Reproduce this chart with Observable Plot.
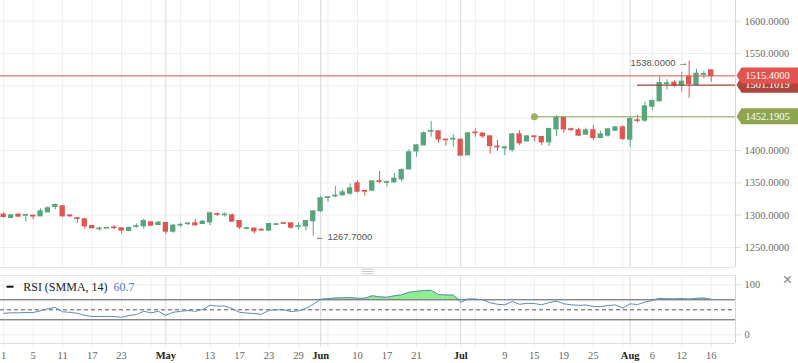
<!DOCTYPE html>
<html>
<head>
<meta charset="utf-8">
<script src="https://cdn.jsdelivr.net/npm/d3@7"></script>
<script src="https://cdn.jsdelivr.net/npm/@observablehq/plot@0.6"></script>
<style>
  body { margin: 0; background: #fff; }
  #chart { width: 798px; height: 363px; overflow: hidden; background: #fff; }
  #chart svg { display: block; }
</style>
</head>
<body>
<div id="chart"></div>
<script>
// ---------- data (daily candles, index 0 = Apr 1) ----------
const opens = [1300.5,1295.9,1300.5,1299.5,1298.8,1298.4,1304.6,1312.9,1313.4,1299.2,
  1295.0,1293.3,1283.0,1278.6,1279.6,1280.6,1279.4,1275.8,1282.2,1283.0,
  1288.6,1285.0,1287.6,1274.7,1284.3,1286.4,1287.1,1286.6,1289.1,1301.3,
  1300.2,1299.5,1290.7,1279.0,1278.9,1277.0,1276.3,1285.3,1287.3,1287.1,
  1282.3,1283.0,1290.7,1306.2,1326.8,1329.4,1330.9,1333.5,1349.0,1337.2,
  1338.1,1352.4,1350.3,1351.1,1355.7,1371.1,1398.9,1408.2,1429.4,1429.4,
  1416.6,1417.2,1416.5,1392.8,1427.5,1426.0,1421.6,1405.7,1403.6,1401.0,
  1424.7,1414.4,1421.6,1420.6,1412.9,1433.0,1450.5,1432.5,1431.0,1424.7,
  1430.9,1419.6,1423.2,1430.9,1435.5,1417.0,1446.4,1446.4,1468.0,1476.3,
  1503.1,1504.6,1500.5,1513.4,1501.5,1517.5,1523.7];
const highs = [1303.6,1300.5,1302.1,1301.0,1300.5,1309.8,1313.4,1317.0,1315.0,1301.0,
  1296.9,1293.5,1284.0,1281.4,1280.4,1284.0,1279.6,1282.0,1286.6,1293.3,
  1289.2,1290.2,1288.6,1285.6,1287.6,1288.6,1293.3,1291.7,1304.6,1303.1,
  1303.6,1302.0,1291.2,1281.4,1280.4,1278.8,1286.6,1287.1,1288.6,1287.3,
  1288.0,1291.7,1307.0,1328.9,1328.9,1344.3,1339.2,1348.4,1353.0,1338.0,
  1352.5,1367.5,1352.6,1364.9,1371.6,1401.0,1409.3,1428.9,1444.8,1430.0,
  1416.8,1424.7,1417.5,1428.0,1433.5,1426.5,1423.0,1415.5,1406.7,1426.3,
  1430.9,1423.2,1423.2,1421.6,1434.5,1454.1,1451.0,1434.5,1434.5,1434.5,
  1438.6,1429.9,1433.5,1437.1,1438.1,1451.5,1454.6,1474.7,1478.4,1513.4,
  1509.3,1508.2,1521.1,1538.0,1525.2,1522.7,1524.0];
const lows = [1295.9,1294.3,1296.9,1289.2,1292.8,1297.9,1304.0,1308.2,1296.9,1295.9,
  1287.1,1278.3,1278.8,1275.2,1279.4,1277.3,1270.6,1274.2,1279.9,1278.3,
  1283.0,1284.0,1270.1,1272.1,1280.4,1284.0,1283.0,1286.1,1284.0,1297.9,
  1296.9,1290.0,1277.8,1277.3,1271.1,1275.2,1275.2,1283.5,1285.6,1278.3,
  1277.0,1275.8,1267.7,1305.0,1320.1,1326.8,1329.9,1330.9,1334.0,1329.4,
  1337.5,1348.5,1343.3,1349.5,1351.0,1370.0,1389.7,1407.7,1420.6,1411.5,
  1406.7,1405.0,1391.5,1392.5,1420.6,1418.6,1394.0,1398.4,1392.3,1397.4,
  1407.7,1412.9,1413.9,1407.7,1406.2,1421.6,1426.8,1429.4,1421.6,1424.5,
  1415.5,1418.0,1420.6,1429.4,1415.5,1405.2,1442.2,1443.8,1461.8,1476.0,
  1493.8,1497.9,1490.2,1480.9,1499.0,1510.8,1505.6];
const closes = [1297.4,1299.5,1297.9,1300.0,1298.2,1305.6,1310.3,1315.5,1298.4,1298.6,
  1294.5,1283.0,1279.9,1279.0,1280.0,1280.1,1276.3,1279.9,1282.6,1290.7,
  1284.0,1288.1,1274.7,1283.5,1284.7,1286.8,1284.5,1289.7,1302.6,1300.8,
  1300.6,1290.2,1281.4,1279.4,1275.2,1276.6,1286.1,1285.7,1286.9,1280.9,
  1282.6,1290.7,1305.6,1325.8,1327.3,1330.0,1335.0,1341.2,1336.6,1336.6,
  1352.0,1351.8,1350.8,1356.2,1369.4,1396.9,1407.7,1426.3,1430.0,1417.5,
  1416.1,1417.7,1392.3,1426.3,1427.0,1422.2,1407.0,1405.2,1404.4,1424.7,
  1411.3,1421.6,1421.0,1412.9,1433.0,1450.5,1433.0,1431.9,1423.2,1430.9,
  1419.6,1424.7,1432.5,1435.5,1418.0,1448.4,1445.9,1468.0,1476.3,1504.1,
  1503.6,1500.5,1506.2,1503.0,1518.5,1518.1,1515.4];
const rsiValues = [43,44,44,44.5,44.5,48,52,55,46,45,
  43,39,36.5,36.5,36.8,36.5,35,38.5,40.5,47,
  44,47,39,45,47,48.5,47,50.5,59,57.5,
  57.5,52.5,45,43.5,42.5,41,49,50,50,46.5,
  48,53,61,71,72.5,73.5,74,74.5,73,73,
  78,76,75,78,80,85,87,88.5,89,80.5,
  79.5,79.5,65,71.5,71.5,70,64,61,60,66.5,
  61,63,62.5,60,64.5,67.5,62,60,59,59.5,
  56.5,56.5,58.5,59.8,53.5,62,60.5,65.5,68.5,73,
  72,72,72.5,71.5,73,73.5,71];
const rsiLegendValue = "60.7";

// axis ticks
const gridIndex = [0,4,8,12,16,20,24,28,32,36,40,44,48,52,56,60,64,68,72,76,80,84,88,92,96];
const monthIndex = [22,43,62,85];
const monthLabels = ["May","Jun","Jul","Aug"];
const dayTickIndex = [0,4,8,12,16,28,32,36,40,48,52,56,68,72,76,80,88,92,96];
const dayLabels = ["1","5","11","17","23","13","17","23","29","10","17","21","9","15","19","25","6","12","16"];
const priceTicks = [1250,1300,1350,1400,1450,1500,1550,1600];
const rsiTicks = [0,100];
const rsiLevels = [30,70];

// horizontal price lines / tags
const currentPrice = 1515.4;
const rayLines = [
  {value: 1501.1019, start: 86, color: "#a8403c", width: 1.3},
  {value: 1452.1905, start: 72, color: "#8aa650", width: 1.2}
];
const tags = [
  {value: 1501.1019, color: "#b0443f"},
  {value: 1515.4, color: "#e2534f"},
  {value: 1452.1905, color: "#8da54d"}
];

// ---------- build ----------
const GREEN = "#56a57d", RED = "#e15550";
const GRID = "#eceef1", MONTHGRID = "#d6d9dc", BORDER = "#d4d7da";
const xDomain = [-0.434, 99.29];
const candles = opens.map((o, i) => ({i, open: o, high: highs[i], low: lows[i], close: closes[i]}));
const ups = candles.filter(d => d.close >= d.open);
const downs = candles.filter(d => d.close < d.open);
const hiIdx = d3.maxIndex(highs), loIdx = d3.minIndex(lows);
const rsi = rsiValues.map((v, i) => ({i, v}));

const serif = "'Liberation Serif', 'DejaVu Serif', serif";
const sans = "'Liberation Sans', 'DejaVu Sans', sans-serif";

function bodyMark(data, color) {
  return Plot.rect(data, {
    x1: d => d.i - 0.36, x2: d => d.i + 0.36,
    y1: d => Math.min(d.open, d.close), y2: d => Math.max(d.open, d.close),
    fill: color, insetTop: -0.7, insetBottom: -0.7
  });
}
function wickMark(data, color) {
  return Plot.ruleX(data, {x: "i", y1: "low", y2: "high", stroke: color, strokeWidth: 1});
}

const priceTagMark = (index, scales, values, dims) => {
  const g = d3.create("svg:g");
  const x0 = dims.width - dims.marginRight + 1.5;
  for (const t of tags) {
    const y = scales.y(t.value);
    const h = 16;
    g.append("path")
      .attr("d", `M${x0},${y} L${x0 + 5},${y - h / 2} H${dims.width} V${y + h / 2} H${x0 + 5} Z`)
      .attr("fill", t.color);
    g.append("text")
      .attr("x", x0 + 31).attr("y", y).attr("dy", "0.36em")
      .attr("text-anchor", "middle").attr("fill", "#fff")
      .attr("font-family", serif).attr("font-size", 10.5)
      .text(t.value.toFixed(4));
  }
  return g.node();
};

const main = Plot.plot({
  width: 798, height: 268,
  marginLeft: 0, marginRight: 63, marginTop: 0, marginBottom: 1,
  x: {type: "linear", domain: xDomain, axis: null},
  y: {domain: [1219.05, 1632], label: null},
  style: {fontFamily: serif, fontSize: "10.5px", background: "#fff"},
  marks: [
    Plot.gridY(priceTicks, {stroke: GRID, strokeOpacity: 1}),
    Plot.ruleX(gridIndex, {stroke: GRID}),
    Plot.ruleX(monthIndex, {stroke: MONTHGRID}),
    Plot.ruleX([xDomain[1]], {stroke: BORDER}),
    Plot.ruleY([1219.05], {stroke: "#e3e6e9"}),
    Plot.axisY(priceTicks, {anchor: "right", tickSize: 5, tickPadding: 4, label: null,
      tickFormat: d => d.toFixed(4), stroke: "#dde0e3", fill: "#6a6a6a", fontSize: 10.5}),
    wickMark(ups, GREEN), wickMark(downs, RED),
    bodyMark(ups, GREEN), bodyMark(downs, RED),
    Plot.ruleY([currentPrice], {stroke: "#e2534f", strokeWidth: 1}),
    Plot.ruleY(rayLines, {y: "value", x1: "start", x2: () => xDomain[1], stroke: d => d.color, strokeWidth: 1.2}),
    Plot.dot([rayLines[1]], {x: "start", y: "value", r: 3.5, fill: "#8aa650", fillOpacity: 0.85}),
    Plot.text([{i: hiIdx, p: highs[hiIdx]}], {x: "i", y: "p", text: d => d.p.toFixed(4) + " \u2192",
      textAnchor: "end", dx: -1.5, dy: 1.5, fill: "#555", fontFamily: sans, fontSize: 9.5}),
    Plot.text([{i: loIdx, p: lows[loIdx]}], {x: "i", y: "p", text: d => "\u2190 " + d.p.toFixed(4),
      textAnchor: "start", dx: 2, dy: 0.5, fill: "#555", fontFamily: sans, fontSize: 9.5}),
    priceTagMark
  ]
});

const decoMark = (index, scales, values, dims) => {
  const g = d3.create("svg:g");
  const cx = (dims.width - dims.marginRight) / 2;
  for (const y of [1.2, 3.5, 5.8]) {
    g.append("line").attr("x1", cx - 6).attr("x2", cx + 6).attr("y1", y).attr("y2", y)
      .attr("stroke", "#c5c8cb").attr("stroke-width", 1);
  }
  g.append("rect").attr("x", 6.5).attr("y", 17.7).attr("width", 7).attr("height", 2).attr("fill", "#111");
  return g.node();
};

const dayMap = new Map(dayTickIndex.map((t, k) => [t, dayLabels[k]]));
const monthMap = new Map(monthIndex.map((t, k) => [t, monthLabels[k]]));
const rsiDomain = [-17.4, 118.6];

const lower = Plot.plot({
  width: 798, height: 95,
  marginLeft: 0, marginRight: 63, marginTop: 7, marginBottom: 20,
  x: {type: "linear", domain: xDomain, label: null},
  y: {domain: rsiDomain, label: null},
  style: {fontFamily: serif, fontSize: "10.5px", background: "#fff"},
  marks: [
    Plot.ruleY(rsiTicks, {stroke: GRID}),
    Plot.ruleX(gridIndex, {stroke: GRID}),
    Plot.ruleX(monthIndex, {stroke: MONTHGRID}),
    Plot.axisX([...gridIndex, ...monthIndex], {tickSize: 4, tickFormat: () => "", stroke: "#e3e6e9", label: null}),
    Plot.axisX(dayTickIndex, {tickSize: 0, tickPadding: 8, tickFormat: d => dayMap.get(d), fill: "#666", fontSize: 10.5, label: null}),
    Plot.axisX(monthIndex, {tickSize: 0, tickPadding: 8, tickFormat: d => monthMap.get(d), fill: "#222", fontWeight: "bold", fontSize: 10.5, label: null}),
    Plot.ruleY([rsiDomain[1]], {stroke: "#e3e6e9"}),
    Plot.ruleY([rsiDomain[0]], {stroke: "#dcdfe2"}),
    Plot.ruleX([xDomain[1]], {stroke: BORDER}),
    Plot.areaY(rsi, {x: "i", y1: 70, y2: d => Math.max(d.v, 70), fill: "#90ee90", curve: "linear"}),
    Plot.ruleY(rsiLevels, {stroke: "#555", strokeWidth: 1}),
    Plot.ruleY([50], {stroke: "#555", strokeWidth: 1, strokeDasharray: "4,3"}),
    Plot.line(rsi, {x: "i", y: "v", stroke: "#6189c4", strokeWidth: 1}),
    Plot.axisY(rsiTicks, {anchor: "right", tickSize: 5, tickPadding: 4, label: null,
      stroke: "#dde0e3", fill: "#6a6a6a", fontSize: 10.5}),
    Plot.text(["RSI (SMMA, 14)"], {frameAnchor: "top-left", text: d => d, dx: 22.7, dy: 11.7,
      textAnchor: "start", lineAnchor: "middle", fill: "#222", fontSize: 12}),
    Plot.text([rsiLegendValue], {frameAnchor: "top-left", text: d => d, dx: 113, dy: 11.7,
      textAnchor: "start", lineAnchor: "middle", fill: "#4c7cc0", fontSize: 12}),
    Plot.text(["\u00d7"], {frameAnchor: "top-right", text: d => d, dx: 52, dy: 4,
      textAnchor: "middle", lineAnchor: "middle", fill: "#8a8a8a", fontSize: 17, fontFamily: sans}),
    decoMark
  ]
});

const chart = document.getElementById("chart");
chart.appendChild(main);
chart.appendChild(lower);
</script>
</body>
</html>
